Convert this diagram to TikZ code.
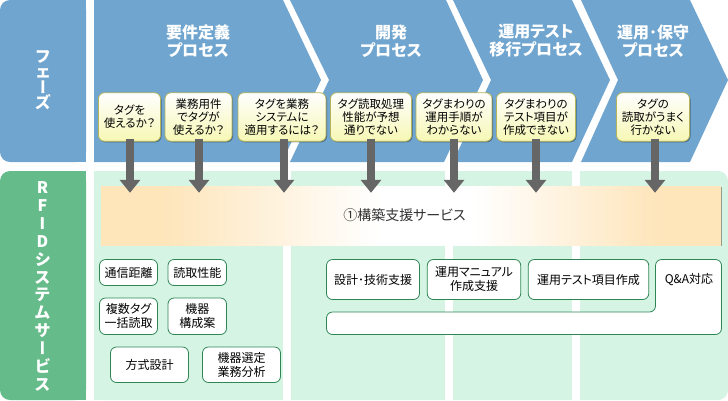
\documentclass[tikz,border=0pt]{standalone}
\usepackage{fontspec}
\setmainfont[CharacterWidth=AlternateProportional]{Noto Sans CJK JP}
\newfontfamily\vertfont[RawFeature=+vert]{Noto Sans CJK JP}
\usetikzlibrary{arrows.meta,shadows}
\definecolor{phaseblue}{HTML}{6FA5CE}
\definecolor{rfidgreen}{HTML}{66BB8A}
\definecolor{palegreen}{HTML}{D6F4E4}
\definecolor{boxgreen}{HTML}{2E8655}
\definecolor{tagedge}{HTML}{B5B45A}
\definecolor{tagyellow}{HTML}{F6F7B4}
\definecolor{barorange}{HTML}{FEE5BA}
\definecolor{arrowgrey}{HTML}{666666}
\pgfdeclarehorizontalshading{barshade}{100bp}{
  color(0bp)=(barorange); color(30bp)=(barorange); color(47.5bp)=(white);
  color(55bp)=(white); color(70bp)=(barorange); color(100bp)=(barorange)}
\newcommand{\longbar}{{\vertfont\bfseries ー}}
\tikzset{
  % Fasi in alto
  chevron/.style={fill=phaseblue},
  phasetext/.style={text=white, font=\fontsize{16}{18}\selectfont\bfseries, align=center},
  sidetext/.style={text=white, font=\fontsize{16}{15.5}\selectfont\bfseries, align=center},
  tagbox/.style={
    draw=tagedge, line width=0.8pt, rounded corners=6pt,
    top color=white, bottom color=tagyellow,
    align=center, inner sep=0pt, minimum height=48.5,
    font=\fontsize{11.5}{13}\selectfont,
    drop shadow={shadow xshift=1pt, shadow yshift=-1pt, opacity=0.35, fill=black}
  },
  servicebox/.style={
    draw=boxgreen, line width=0.8pt, rounded corners=6pt, fill=white,
    align=center, inner sep=0pt,
    font=\fontsize{12}{14}\selectfont
  },
  bigarrow/.style={
    draw=arrowgrey, line width=8pt, shorten <=-3pt, shorten >=-7pt,
    -{Triangle[width=20pt,length=13pt]}
  }
}
\begin{document}
\begin{tikzpicture}[x=1pt,y=-1pt]
  \useasboundingbox (0,0) rectangle (728,400);

  % colonna sinistra
  \fill[phaseblue, rounded corners=10pt] (0,0) -- (86,0) -- (86,162) -- (0,162) -- cycle;
  \fill[phaseblue] (76,0) rectangle (86,162);
  \fill[rfidgreen, rounded corners=10pt] (0,171) -- (86,171) -- (86,400) -- (0,400) -- cycle;
  \fill[rfidgreen] (76,171) rectangle (86,400);
  \node[sidetext] (phaselabel) at (43,80) {フ\\ェ\\\longbar\\ズ};
  \node[sidetext, font=\fontsize{16}{17.9}\selectfont\bfseries] (rfidlabel) at (42.5,286.5) {R\\F\\I\\D\\シ\\ス\\テ\\ム\\サ\\\longbar\\ビ\\ス};

  % frecce delle fasi
  \fill[chevron] (94,0) -- (283,0) -- (321,80) -- (282,162) -- (94,162) -- cycle;
  \fill[chevron] (290,0) -- (446,0) -- (483,80) -- (444,162) -- (290,162) -- (329,80) -- cycle;
  \fill[chevron] (453,0) -- (572,0) -- (610,80) -- (572,162) -- (453,162) -- (491,80) -- cycle;
  \fill[chevron] (581,0) -- (690,0) -- (728,80) -- (690,162) -- (581,162) -- (618,80) -- cycle;
  \node[phasetext] (phaseA) at (198,41) {要件定義\\プロセス};
  \node[phasetext] (phaseB) at (391,41) {開発\\プロセス};
  \node[phasetext] (phaseC) at (536,41) {運用テスト\\移行プロセス};
  \node[phasetext] (phaseD) at (653,41) {運用･保守\\プロセス};

  % fondo servizi
  \fill[palegreen, rounded corners=10pt] (94,171) -- (728,171) -- (728,400) -- (94,400) -- cycle;
  \fill[palegreen] (94,171) rectangle (110,400);
  \fill[white] (283,171) rectangle (291,400);
  \fill[white] (445,171) rectangle (453,400);
  \fill[white] (572,171) rectangle (580,400);

  % barra centrale
  \node[minimum width=620, minimum height=59, inner sep=0pt, shading=barshade,
        drop shadow={shadow xshift=1pt, shadow yshift=-1pt, opacity=0.4, fill=black}] (svc) at (411,215.5) {};
  \node[font=\fontsize{14}{16}\selectfont, text=black!80] (svclabel) at (404.5,215.5) {①構築支援サービス};

  % riquadri gialli
  \node[tagbox, minimum width=62] (tagA) at (129.5,117) {タグを\\使えるか？};
  \node[tagbox, minimum width=67] (tagB) at (198.5,117) {業務用件\\でタグが\\使えるか？};
  \node[tagbox, minimum width=88] (tagC) at (282,117) {タグを業務\\システムに\\適用するには？};
  \node[tagbox, minimum width=81] (tagD) at (371,117) {タグ読取処理\\性能が予想\\通りでない};
  \node[tagbox, minimum width=76] (tagE) at (454,117) {タグまわりの\\運用手順が\\わからない};
  \node[tagbox, minimum width=79] (tagF) at (536,117) {タグまわりの\\テスト項目が\\作成できない};
  \node[tagbox, minimum width=73] (tagG) at (653,117) {タグの\\読取がうまく\\行かない};

  % frecce
  \foreach \tagname/\dx in {tagA/0.5,tagB/0.5,tagC/2,tagD/0,tagE/0,tagF/0,tagG/2}
    \draw[bigarrow] ([xshift=\dx pt]\tagname.south) -- ([xshift=\dx pt]\tagname.south |- svc.north);

  % servizi
  \node[servicebox, minimum width=58, minimum height=26] (distance) at (128.5,272.5) {通信距離};
  \node[servicebox, minimum width=58.5, minimum height=26] (readperf) at (197.25,272.5) {読取性能};
  \node[servicebox, minimum width=58, minimum height=36.5] (multitag) at (128.5,316.25) {複数タグ\\一括読取};
  \node[servicebox, minimum width=58.5, minimum height=36.5] (equipment) at (197.25,316.25) {機器\\構成案};
  \node[servicebox, minimum width=78, minimum height=35.5] (method) at (149.5,364.75) {方式設計};
  \node[servicebox, minimum width=78, minimum height=35.5] (selection) at (241.5,364.75) {機器選定\\業務分析};
  \draw[draw=boxgreen, line width=0.8pt, fill=white, rounded corners=6pt]
    (326.5,312) -- (655.5,312) -- (655.5,259.5) -- (721.5,259.5) -- (721.5,334.5) -- (326.5,334.5) -- cycle;
  \node[font=\fontsize{12}{14}\selectfont] (qanda) at (689,280) {Q\&A対応};
  \node[servicebox, minimum width=93, minimum height=40] (design) at (373,279.5) {設計･技術支援};
  \node[servicebox, minimum width=93.5, minimum height=40] (manual) at (474,279.5) {運用マニュアル\\作成支援};
  \node[servicebox, minimum width=120.5, minimum height=40] (testitems) at (588.5,279.5) {運用テスト項目作成};
\end{tikzpicture}
\end{document}
